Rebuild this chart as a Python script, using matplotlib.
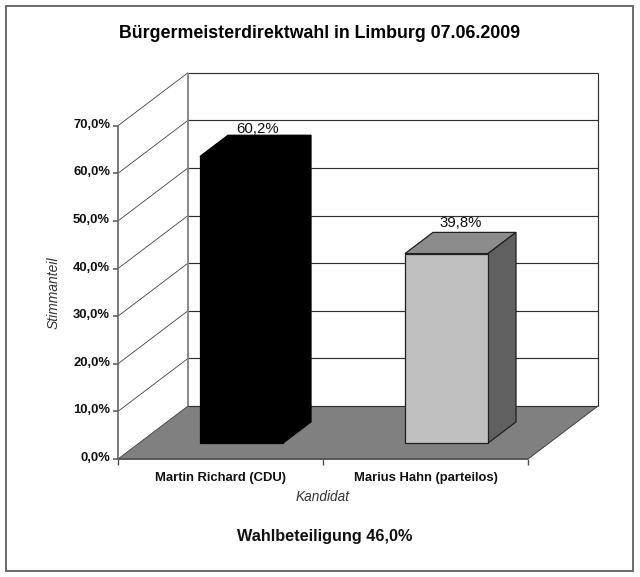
import matplotlib
matplotlib.use("Agg")
import matplotlib.pyplot as plt
from matplotlib.patches import Polygon, Rectangle

plt.rcParams['font.family'] = ['Liberation Sans', 'DejaVu Sans']

candidates = ["Martin Richard (CDU)", "Marius Hahn (parteilos)"]
shares = [60.2, 39.8]
share_labels = ["60,2%", "39,8%"]
y_ticks = [0, 10, 20, 30, 40, 50, 60, 70]
y_tick_labels = ["0,0%", "10,0%", "20,0%", "30,0%", "40,0%", "50,0%", "60,0%", "70,0%"]
title = "Bürgermeisterdirektwahl in Limburg 07.06.2009"
xlabel = "Kandidat"
ylabel = "Stimmanteil"
note = "Wahlbeteiligung 46,0%"

W, H = 640, 577
fig = plt.figure(figsize=(W / 100, H / 100), dpi=100, facecolor="white")
ax = fig.add_axes([118 / W, 1 - 459 / H, 410 / W, 333.3 / H])
ax.set_xlim(0, 2)
ax.set_ylim(0, 70)
ax.axis("off")

# oblique projection: depth 1 moves right and up
DX = 70 / 205
DY = 53 / 4.761
BAR_W = 0.405
D0, D1 = 0.30, 0.70
LABEL_SHIFT = [(-12, -1), (-14, 2)]


def P(x, y, d=0.0):
    return (x + d * DX, y + d * DY)


def poly(pts, fc, ec="none", lw=0.0, z=1):
    ax.add_patch(Polygon(pts, closed=True, facecolor=fc, edgecolor=ec,
                         linewidth=lw, zorder=z, clip_on=False, joinstyle="miter"))


def line(a, b, color, lw=1.0, z=2):
    ax.plot([a[0], b[0]], [a[1], b[1]], color=color, lw=lw, zorder=z,
            clip_on=False, solid_capstyle="butt")


# outer frame
fig.add_artist(Rectangle((6 / W, 1 - 571 / H), 627 / W, 565 / H, transform=fig.transFigure,
                         facecolor="none", edgecolor="#6A6A6A", linewidth=1.4))

# floor
poly([P(0, 0), P(2, 0), P(2, 0, 1), P(0, 0, 1)], "#808080", z=1)

# gridlines on walls
for v in y_ticks:
    line(P(0, v), P(0, v, 1), "#404040", 0.6, 2)
    line(P(0, v, 1), P(2, v, 1), "#303030", 0.85, 2)

# wall edges
line(P(0, 0, 1), P(0, 70, 1), "#808080", 1.3, 3)
line(P(2, 0, 1), P(2, 70, 1), "#303030", 0.85, 3)
line(P(0, 0), P(0, 70), "#707070", 1.3, 3)
line(P(2, 0), P(2, 0, 1), "#404040", 0.7, 3)
line(P(0, 0), P(2, 0), "#505050", 1.3, 3)

# axis ticks
tick_dx = 5 / 205
tick_dy = 6 / 4.761
for v, lab in zip(y_ticks, y_tick_labels):
    line(P(-tick_dx, v), P(0, v), "#606060", 1.2, 3)
    ax.annotate(lab, xy=P(0, v), xytext=(-8, 1), textcoords="offset pixels", ha="right",
                va="center", fontsize=9.4, fontweight="bold", color="#111111", annotation_clip=False)
for x in [0, 1, 2]:
    line((x, 0), (x, -tick_dy), "#505050", 1.0, 3)

# bars
styles = [("#000000", "#000000", "#000000", "#000000"),
          ("#C0C0C0", "#8C8C8C", "#606060", "#202020")]
for i, (v, lab) in enumerate(zip(shares, share_labels)):
    front, top, side, edge = styles[i]
    x0, x1 = i + 0.5 - BAR_W / 2, i + 0.5 + BAR_W / 2
    poly([P(x0, v, D0), P(x1, v, D0), P(x1, v, D1), P(x0, v, D1)], top, edge, 0.9, 5)
    poly([P(x1, 0, D0), P(x1, 0, D1), P(x1, v, D1), P(x1, v, D0)], side, edge, 0.9, 5)
    poly([P(x0, 0, D0), P(x1, 0, D0), P(x1, v, D0), P(x0, v, D0)], front, edge, 0.9, 6)
    ax.annotate(lab, xy=P(i + 0.5, v, D1), xytext=LABEL_SHIFT[i], textcoords="offset pixels",
                ha="center", va="bottom", fontsize=10.8, color="#111111",
                annotation_clip=False, zorder=7)
    ax.annotate(candidates[i], xy=(i + 0.5, 0), xytext=(0, -18.5), textcoords="offset pixels",
                ha="center", va="center", fontsize=9.4, fontweight="bold", color="#111111",
                annotation_clip=False)

fig.text(320 / W, 1 - 33 / H, title, ha="center", va="center", fontsize=12.75, fontweight="bold", color="#000000")
fig.text(323 / W, 1 - 497 / H, xlabel, ha="center", va="center", fontsize=9.8, style="italic", color="#333333")
fig.text(54 / W, 1 - 293 / H, ylabel, ha="center", va="center", rotation=90, fontsize=10, style="italic", color="#333333")
fig.text(325 / W, 1 - 537 / H, note, ha="center", va="center", fontsize=11.7, fontweight="bold", color="#111111")

fig.savefig("out.png", dpi=100, facecolor="white")
